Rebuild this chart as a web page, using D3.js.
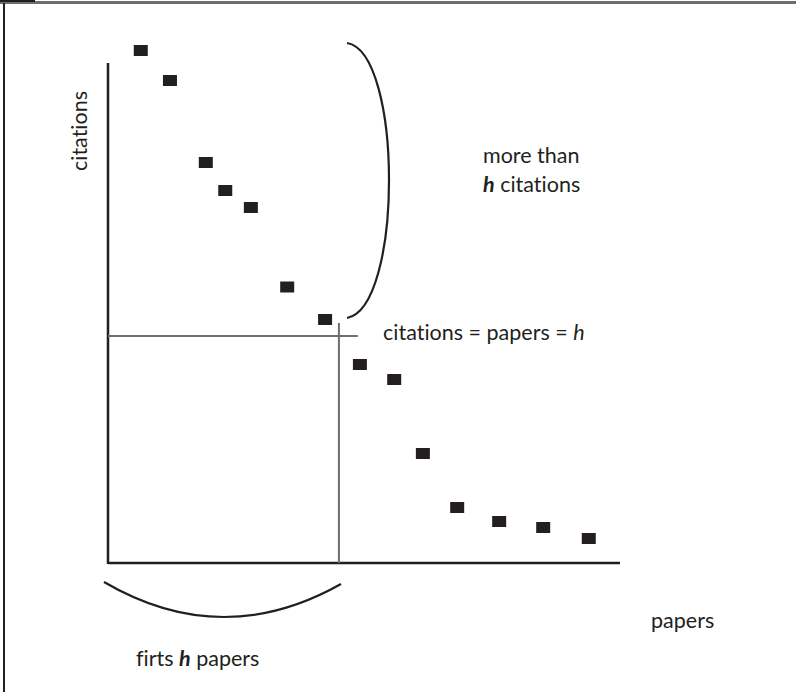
<!DOCTYPE html>
<html>
<head>
<meta charset="utf-8">
<script src="https://cdn.jsdelivr.net/npm/d3@7"></script>
<style>
  html, body { margin: 0; padding: 0; background: #fff; }
  svg { display: block; }
  text { font-family: Lato, "Open Sans", sans-serif; fill: #231f20; font-variant-ligatures: none; }
</style>
</head>
<body>
<div id="chart"></div>
<script>
// Papers ranked by citation count (x position in rank units, y = citations)
const papers    = [6.4, 12.1, 19.1, 22.9, 27.9, 35.0, 42.4, 49.2, 55.9, 61.5, 68.2, 76.4, 85.0, 93.9];
const citations = [102.5, 96.5, 80.1, 74.5, 71.1, 55.2, 48.7, 39.7, 36.7, 21.9, 11.1, 8.3, 7.1, 4.9];
const hIndex = [45.1, 45.4]; // [papers, citations] of the h crossing
const labels = {
  xAxis: "papers",
  yAxis: "citations",
  hLine: "citations = papers = ",
  upper1: "more than",
  upper2: " citations",
  lower: ["firts ", " papers"]
};

const W = 796, H = 692;
const svg = d3.select("#chart").append("svg").attr("width", W).attr("height", H);

// frame
svg.append("rect").attr("x", 0).attr("y", 1).attr("width", W).attr("height", 3).attr("fill", "#6d6e71");
svg.append("rect").attr("x", 0).attr("y", 0).attr("width", 35).attr("height", 2).attr("fill", "#231f20");
svg.append("rect").attr("x", 3).attr("y", 3).attr("width", 2).attr("height", H - 3).attr("fill", "#231f20");

const x = d3.scaleLinear().domain([0, 100]).range([108, 620]);
const y = d3.scaleLinear().domain([0, 100]).range([563, 63]);

// axes
const axisColor = "#231f20";
svg.append("line").attr("x1", x(0)).attr("x2", x(0)).attr("y1", y(100)).attr("y2", y(0) + 1)
  .attr("stroke", axisColor).attr("stroke-width", 2.5);
svg.append("line").attr("x1", x(0)).attr("x2", x(100)).attr("y1", y(0)).attr("y2", y(0))
  .attr("stroke", axisColor).attr("stroke-width", 2.5);

// h lines
svg.append("line").attr("x1", x(0)).attr("x2", x(48.8)).attr("y1", y(hIndex[1])).attr("y2", y(hIndex[1]))
  .attr("stroke", "#6d6e71").attr("stroke-width", 2);
svg.append("line").attr("x1", x(hIndex[0])).attr("x2", x(hIndex[0])).attr("y1", y(48)).attr("y2", y(0))
  .attr("stroke", "#6d6e71").attr("stroke-width", 2);

// points
const data = papers.map((p, i) => ({ p, c: citations[i] }));
svg.selectAll("rect.pt").data(data).enter().append("rect").attr("class", "pt")
  .attr("x", d => x(d.p) - 7).attr("y", d => y(d.c) - 5.5)
  .attr("width", 14).attr("height", 11).attr("fill", "#231f20");

// right brace
svg.append("path")
  .attr("d", `M347,43 C403,52 403,308 347,318`)
  .attr("fill", "none").attr("stroke", "#231f20").attr("stroke-width", 2.2);
// bottom brace
svg.append("path")
  .attr("d", `M104,582 Q222,651 341,584`)
  .attr("fill", "none").attr("stroke", "#231f20").attr("stroke-width", 2.2);

const fs = 21.5;
// y label
svg.append("text").attr("transform", "translate(87,131) rotate(-90)")
  .attr("text-anchor", "middle").attr("font-size", fs).text(labels.yAxis);
// x label
svg.append("text").attr("x", 651).attr("y", 628).attr("font-size", fs).text(labels.xAxis);
// h line label
const t1 = svg.append("text").attr("x", 383).attr("y", 340).attr("font-size", fs);
t1.append("tspan").text(labels.hLine);
t1.append("tspan").attr("font-style", "italic").text("h");
// upper label
svg.append("text").attr("x", 483).attr("y", 163).attr("font-size", fs).text(labels.upper1);
const t2 = svg.append("text").attr("x", 483).attr("y", 192).attr("font-size", fs);
t2.append("tspan").attr("font-style", "italic").attr("font-weight", "bold").text("h");
t2.append("tspan").text(labels.upper2);
// lower label
const t3 = svg.append("text").attr("x", 136).attr("y", 666).attr("font-size", fs);
t3.append("tspan").text(labels.lower[0]);
t3.append("tspan").attr("font-style", "italic").attr("font-weight", "bold").text("h");
t3.append("tspan").text(labels.lower[1]);
</script>
</body>
</html>
